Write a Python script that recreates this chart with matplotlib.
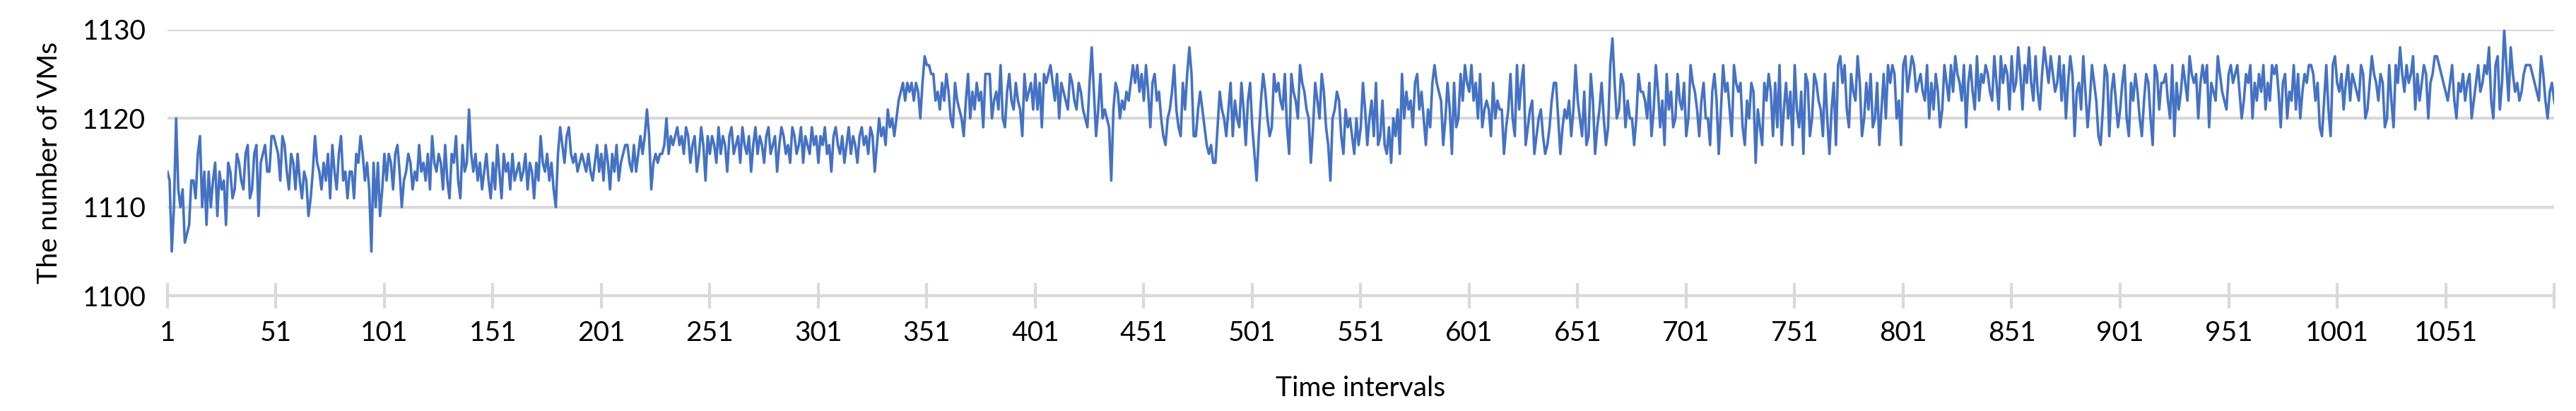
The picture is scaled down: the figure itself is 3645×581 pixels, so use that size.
import matplotlib
matplotlib.use("Agg")
import matplotlib.pyplot as plt

# values
b01 = [1114,1113,1105,1110,1120,1112,1110,1112,1106,1107,1108,1113,1113,1111,1116,1118,1110,1114,1108,1114,
       1110,1113,1115,1109,1114,1112,1113,1108,1115,1114,1111,1112,1116,1115,1113,1112,1116,1117,1111,1112,
       1116,1117,1109,1115,1116,1117,1114,1114,1118,1118]
b02 = [1117,1116,1113,1118,1117,1114,1112,1116,1115,1112,1116,1113,1111,1114,1113,1109,1111,1114,1118,1115,
       1114,1112,1115,1113,1116,1111,1117,1114,1112,1116,1118,1113,1114,1111,1114,1114,1111,1116,1115,1118,
       1116,1113,1115,1112,1105,1115,1110,1115,1109,1112]
b03 = [1116,1113,1116,1115,1112,1116,1117,1114,1110,1113,1114,1116,1115,1112,1114,1113,1117,1114,1115,1113,
       1116,1112,1118,1115,1114,1116,1115,1112,1117,1113,1111,1116,1115,1118,1113,1111,1117,1114,1115,1121,
       1116,1114,1116,1113,1115,1112,1114,1116,1113,1111]
b04 = [1115,1112,1117,1114,1111,1116,1114,1115,1112,1116,1113,1114,1115,1113,1114,1116,1112,1115,1114,1111,
       1115,1113,1118,1115,1114,1116,1113,1115,1112,1110,1116,1119,1117,1115,1118,1119,1116,1115,1116,1114,
       1115,1116,1115,1114,1116,1114,1113,1115,1117,1114]
b05 = [1116,1113,1117,1115,1112,1116,1114,1117,1113,1115,1116,1117,1117,1115,1114,1117,1114,1116,1118,1116,
       1118,1121,1118,1112,1115,1116,1115,1116,1116,1117,1120,1116,1118,1117,1118,1119,1117,1118,1116,1119,
       1118,1115,1117,1118,1114,1116,1119,1117,1113,1118]
b05b = [1116,1118,1117,1115,1119,1116,1118,1117,1114,1118,1119,1116,1117,1118,1115,1119,1117,1116,1118,1114,
        1117,1119,1116,1118,1117,1115,1118,1119,1116,1117,1118,1114,1117,1119,1118,1116,1117,1115,1119,1118,
        1116,1117,1119,1115,1118,1117,1116,1119,1117,1118,1115,1118,1117,1119,1116,1117,1114,1118,1119,1117,
        1116,1118,1115,1117,1119,1116,1118,1117,1115,1118]
b06 = [1119,1117,1118,1116,1119,1118,1114,1117,1120,1118,1119,1117,1121,1119,1120,1118,1120,1122,1123,1124,
       1122,1124,1123,1124,1122,1124,1123,1120,1124,1127,1126,1126,1125,1125,1122,1123,1121,1124,1122,1125,
       1123,1120,1119,1124,1122,1121,1120,1118,1122,1125]
b07 = [1120,1123,1121,1124,1122,1123,1119,1125,1125,1125,1120,1122,1123,1121,1126,1120,1119,1123,1125,1122,
       1121,1124,1122,1121,1118,1125,1122,1123,1124,1121,1125,1121,1124,1119,1125,1124,1125,1126,1124,1122,
       1125,1120,1124,1123,1122,1121,1125,1124,1122,1121]
b08 = [1124,1123,1121,1120,1119,1124,1128,1123,1118,1121,1125,1120,1121,1120,1119,1113,1121,1124,1123,1120,
       1122,1121,1123,1122,1124,1126,1124,1126,1123,1125,1122,1126,1123,1119,1124,1125,1122,1123,1120,1118,
       1117,1120,1121,1123,1126,1121,1119,1118,1124,1121]
b09 = [1125,1128,1125,1118,1118,1121,1123,1121,1119,1117,1116,1117,1115,1115,1119,1123,1121,1120,1118,1121,
       1124,1118,1122,1120,1119,1124,1121,1117,1122,1124,1119,1116,1113,1118,1122,1125,1123,1120,1118,1119,
       1125,1123,1124,1122,1121,1125,1119,1116,1125,1123]
b10 = [1122,1120,1126,1124,1123,1121,1120,1115,1119,1124,1122,1120,1125,1123,1119,1117,1113,1120,1121,1123,
       1122,1118,1116,1121,1119,1120,1118,1116,1120,1117,1119,1124,1121,1117,1120,1122,1118,1124,1117,1118,
       1122,1117,1116,1119,1115,1120,1118,1121,1116,1125]
b11 = [1120,1123,1121,1122,1119,1124,1125,1121,1123,1120,1117,1121,1119,1124,1126,1124,1123,1122,1117,1120,
       1124,1121,1116,1124,1119,1120,1125,1122,1126,1124,1123,1126,1122,1124,1120,1125,1119,1121,1122,1121,
       1118,1124,1120,1122,1121,1121,1116,1119,1121,1125]
b12 = [1120,1118,1126,1121,1124,1126,1117,1119,1121,1122,1116,1118,1120,1121,1118,1116,1117,1119,1122,1124,
       1124,1120,1116,1119,1121,1120,1122,1118,1121,1126,1122,1120,1118,1123,1117,1118,1125,1122,1116,1119,
       1121,1124,1120,1117,1119,1126,1129,1124,1120,1121]
b13 = [1125,1124,1119,1122,1120,1120,1117,1120,1125,1123,1123,1122,1120,1124,1118,1121,1126,1123,1119,1122,
       1117,1125,1121,1123,1119,1120,1125,1122,1121,1124,1118,1120,1126,1124,1123,1121,1118,1122,1124,1120,
       1120,1117,1123,1125,1122,1116,1121,1126,1123,1124]
b14 = [1121,1118,1126,1124,1123,1124,1119,1117,1122,1120,1124,1123,1115,1121,1119,1117,1124,1122,1125,1123,
       1118,1124,1119,1126,1117,1121,1124,1120,1123,1117,1126,1121,1119,1123,1116,1125,1124,1118,1120,1125,
       1124,1122,1121,1118,1125,1120,1116,1121,1124,1117]
b15 = [1126,1127,1124,1126,1121,1119,1125,1123,1122,1127,1124,1118,1120,1124,1121,1125,1119,1120,1124,1117,
       1121,1125,1120,1126,1124,1126,1125,1120,1122,1117,1126,1127,1123,1125,1127,1126,1123,1124,1125,1123,
       1122,1126,1120,1124,1121,1125,1123,1119,1121,1126]
b16 = [1124,1122,1126,1123,1127,1125,1124,1122,1126,1119,1124,1126,1123,1121,1127,1122,1125,1124,1126,1125,
       1123,1122,1127,1124,1121,1127,1124,1126,1125,1121,1127,1123,1124,1128,1125,1121,1126,1124,1128,1124,
       1122,1127,1123,1121,1125,1128,1126,1124,1127,1125]
b17 = [1123,1124,1127,1122,1126,1120,1124,1127,1125,1118,1123,1124,1121,1127,1123,1119,1122,1126,1124,1122,
       1118,1117,1121,1126,1125,1118,1123,1125,1122,1119,1121,1124,1126,1120,1118,1124,1122,1125,1123,1120,
       1118,1122,1125,1124,1120,1117,1126,1125,1121,1124]
b18 = [1124,1125,1122,1120,1126,1118,1124,1121,1123,1126,1124,1122,1127,1125,1124,1125,1120,1124,1126,1124,
       1126,1119,1124,1123,1122,1127,1125,1123,1122,1121,1125,1126,1124,1125,1126,1123,1120,1122,1125,1124,
       1126,1120,1124,1122,1125,1123,1126,1121,1124,1122]
b19 = [1126,1125,1126,1123,1119,1124,1125,1120,1123,1122,1126,1121,1125,1120,1123,1125,1124,1126,1126,1125,
       1122,1124,1119,1118,1122,1126,1121,1118,1126,1127,1124,1123,1125,1121,1124,1126,1122,1125,1124,1123,
       1122,1126,1125,1120,1121,1124,1127,1125,1124,1122]
b20 = [1125,1124,1119,1120,1126,1122,1119,1126,1124,1128,
       1125,1123,1126,1124,1125,1127,1121,1125,1122,1124,1126,1125,1120,1124,1125,1127,1127,1126,1125,1124,
       1123,1122,1124,1126,1122,1120,1124,1123,1125,1122]
b21 = [1124,1125,1120,1122,1124,1126,1123,1124,1126,1125,1128,1122,1120,1126,1127,1121,1124,1130,1126,1122,
       1128,1125,1123,1124,1122,1123,1125,1126,1126,1126,1125,1124,1123,1122,1127,1125,1122,1120,1123,1124,
       1122,1121,1123,1122,1121,1123,1122,1126,1123,1123]

values = (b01 + b02 + b03 + b04 + b05 + b05b + b06 + b07 + b08 + b09 + b10 + b11 + b12 + b13 + b14
          + b15 + b16 + b17 + b18 + b19 + b20 + b21)
x = list(range(1, len(values) + 1))
xticks = list(range(1, 1052, 50))
yticks = [1100, 1110, 1120, 1130]

plt.rcParams['font.family'] = ['Liberation Sans Narrow', 'Lato', 'DejaVu Sans']
fig = plt.figure(figsize=(36.45, 5.81), dpi=100)
ax = fig.add_axes([0.065, 0.28, 0.9265, 0.648])
ax.plot(x, values, color='#4472C4', lw=2.6)
ax.set_xlim(1, 1101)
ax.set_ylim(1100, 1130)
ax.set_yticks(yticks)
ax.set_xticks(xticks)
ax.set_xticks([1101], minor=True)
ax.grid(axis='y', color='#D9D9D9', lw=3)
ax.set_axisbelow(True)
for s in ['top', 'right', 'left']:
    ax.spines[s].set_visible(False)
ax.spines['bottom'].set_color('#D9D9D9')
ax.spines['bottom'].set_linewidth(3)
ax.tick_params(axis='x', which='both', direction='inout', length=26, width=3, color='#D9D9D9',
               labelsize=28, pad=12)
ax.tick_params(axis='y', length=0, labelsize=28, pad=22)
ax.set_xlabel('Time intervals', fontsize=28, labelpad=30)
ax.set_ylabel('The number of VMs', fontsize=28, labelpad=20)
fig.savefig('out.png', dpi=100)
